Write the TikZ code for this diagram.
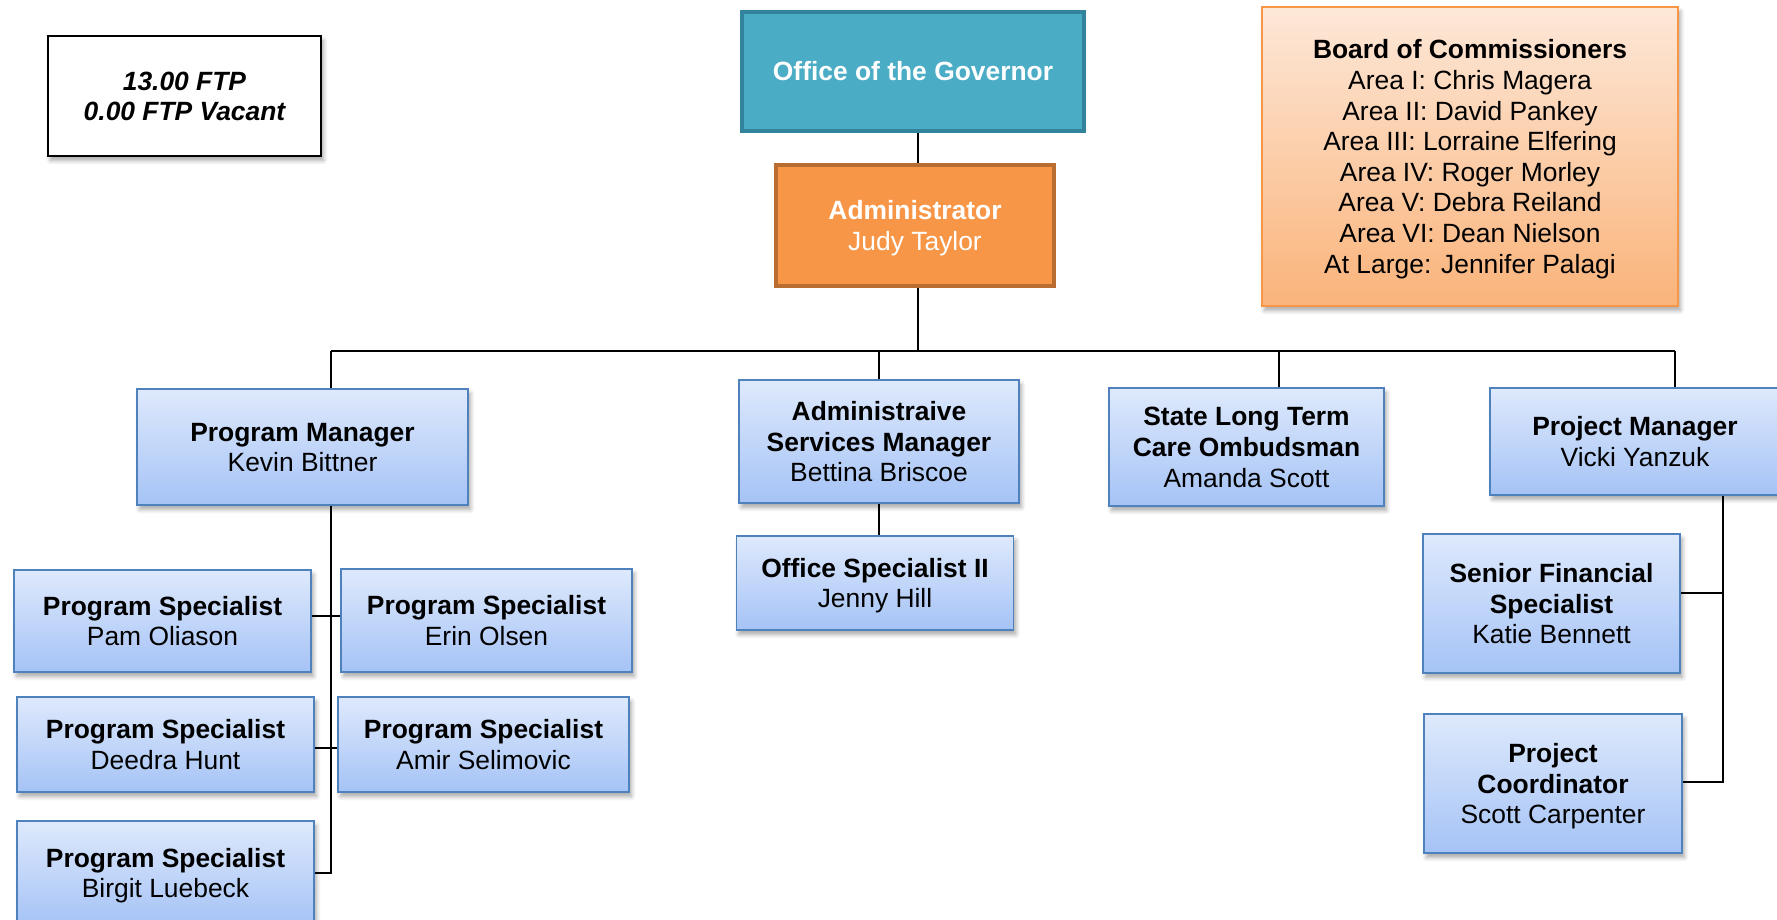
\documentclass[tikz,border=0pt]{standalone}
\usepackage{fontspec}
\setmainfont{Liberation Sans}
\usetikzlibrary{shadows.blur}
\definecolor{govfill}{HTML}{4BACC6}
\definecolor{govline}{HTML}{31849B}
\definecolor{admfill}{HTML}{F79646}
\definecolor{admline}{HTML}{B96D30}
\definecolor{bdtop}{HTML}{FDE8D8}
\definecolor{bdbot}{HTML}{FAB37A}
\definecolor{bdline}{HTML}{F79646}
\definecolor{bltop}{HTML}{DEE9FC}
\definecolor{blbot}{HTML}{A5C3F6}
\definecolor{blline}{HTML}{4F81BD}
\newcommand{\bx}[1]{\rule{0pt}{12.5pt}#1\rule[-3pt]{0pt}{3pt}}
\tikzset{
  txt/.style={font=\fontsize{13.2}{15.3}\selectfont, align=center, inner sep=0pt},
  shad/.style={blur shadow={shadow xshift=1.2pt, shadow yshift=-2.2pt, shadow blur steps=6, shadow opacity=35}},
  ftpbox/.style={txt, draw=black, line width=1pt, fill=white, shad, font=\fontsize{13.2}{15.2}\selectfont\bfseries\itshape},
  govbox/.style={txt, draw=govline, line width=2pt, fill=govfill, text=white},
  admbox/.style={txt, draw=admline, line width=1.7pt, fill=admfill, text=white},
  boardbox/.style={txt, draw=bdline, line width=0.8pt, top color=bdtop, bottom color=bdbot, shad},
  bluebox/.style={txt, draw=blline, line width=0.8pt, top color=bltop, bottom color=blbot, shad},
  conn/.style={draw=black, line width=0.9pt}
}
\begin{document}
\begin{tikzpicture}[x=0.5pt,y=-0.5pt]
\useasboundingbox (0,0) rectangle (1777,920);

\coordinate (busL) at (331,351);
\coordinate (busR) at (1675,351);
\coordinate (trunk) at (918,351);
\coordinate (sltcx) at (1279,351);
\coordinate (pmx) at (331,873);
\coordinate (prmx) at (1723,782);

\node[ftpbox, minimum width=136.5pt, minimum height=60pt] (ftp) at (184.5,96) {\bx{13.00 FTP\\0.00 FTP Vacant}};

\node[govbox, minimum width=171pt, minimum height=59.5pt] (gov) at (913,71.5) {\bx{\bfseries Office of the Governor}};
\node[admbox, minimum width=139pt, minimum height=60.5pt] (adm) at (915,225.5) {\bx{{\bfseries Administrator}\\Judy Taylor}};

\node[boardbox, minimum width=208pt, minimum height=149.5pt] (board) at (1470,156.5) {\bx{{\bfseries Board of Commissioners}\\Area I: Chris Magera\\Area II: David Pankey\\Area III: Lorraine Elfering\\Area IV: Roger Morley\\Area V: Debra Reiland\\Area VI: Dean Nielson\\At Large: Jennifer Palagi}};

\node[bluebox, minimum width=165.5pt, minimum height=58pt] (pm) at (302.5,447) {\bx{{\bfseries Program Manager}\\Kevin Bittner}};
\node[bluebox, minimum width=140pt, minimum height=61.5pt] (asm) at (879,441.5) {\bx{{\bfseries Administraive}\\{\bfseries Services Manager}\\Bettina Briscoe}};
\node[bluebox, minimum width=138.5pt, minimum height=47pt] (os) at (875,583) {\bx{{\bfseries Office Specialist II}\\Jenny Hill}};
\node[bluebox, minimum width=137.5pt, minimum height=59pt] (sltc) at (1246.5,447) {\bx{{\bfseries State Long Term}\\{\bfseries Care Ombudsman}\\Amanda Scott}};
\node[bluebox, minimum width=145pt, minimum height=53.5pt] (prm) at (1635,441.5) {\bx{{\bfseries Project Manager}\\Vicki Yanzuk}};

\node[bluebox, minimum width=148.5pt, minimum height=51pt] (ps1) at (162.5,621) {\bx{{\bfseries Program Specialist}\\Pam Oliason}};
\node[bluebox, minimum width=145.5pt, minimum height=51.5pt] (ps2) at (486.5,620.5) {\bx{{\bfseries Program Specialist}\\Erin Olsen}};
\node[bluebox, minimum width=148.5pt, minimum height=47.5pt] (ps3) at (165.5,744.5) {\bx{{\bfseries Program Specialist}\\Deedra Hunt}};
\node[bluebox, minimum width=145.5pt, minimum height=47.5pt] (ps4) at (483.5,744.5) {\bx{{\bfseries Program Specialist}\\Amir Selimovic}};
\node[bluebox, minimum width=148.5pt, minimum height=52pt] (ps5) at (165.5,873) {\bx{{\bfseries Program Specialist}\\Birgit Luebeck}};

\node[bluebox, minimum width=128.5pt, minimum height=69.5pt] (sfs) at (1551.5,603.5) {\bx{{\bfseries Senior Financial}\\{\bfseries Specialist}\\Katie Bennett}};
\node[bluebox, minimum width=129pt, minimum height=69.5pt] (pc) at (1553,783.5) {\bx{{\bfseries Project}\\{\bfseries Coordinator}\\Scott Carpenter}};

\draw[conn] (trunk |- gov.south) -- (trunk |- adm.north);
\draw[conn] (trunk |- adm.south) -- (trunk);
\draw[conn] (busL) -- (busR);
\draw[conn] (busL) -- (busL |- pm.north);
\draw[conn] (asm.north |- busL) -- (asm.north);
\draw[conn] (sltcx) -- (sltcx |- sltc.north);
\draw[conn] (busR) -- (busR |- prm.north);
\draw[conn] (asm.south) -- (asm.south |- os.north);
\draw[conn] (pmx |- pm.south) -- (pmx) -- (ps5.east |- pmx);
\draw[conn] (ps1.east |- 0,616) -- (ps2.west |- 0,616);
\draw[conn] (ps3.east |- 0,748) -- (ps4.west |- 0,748);
\draw[conn] (prmx |- prm.south) -- (prmx) -- (pc.east |- prmx);
\draw[conn] (sfs.east |- 0,593) -- (prmx |- 0,593);
\end{tikzpicture}
\end{document}
